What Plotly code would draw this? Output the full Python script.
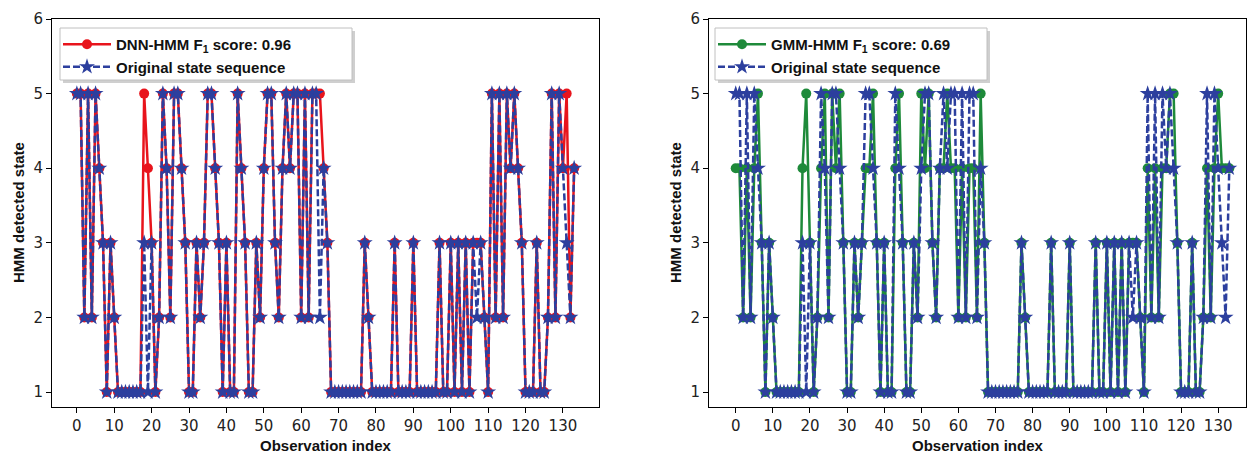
import plotly.graph_objects as go

# ---------------- data ----------------
obs_index = list(range(134))

original_states = [
    5, 5, 2, 5, 2, 5, 4, 3, 1, 3,
    2, 1, 1, 1, 1, 1, 1, 1, 3, 1,
    3, 1, 2, 5, 4, 2, 5, 5, 4, 3,
    1, 1, 3, 2, 3, 5, 5, 4, 3, 1,
    3, 1, 1, 5, 4, 3, 1, 1, 3, 2,
    4, 5, 5, 3, 2, 4, 5, 4, 5, 5,
    2, 5, 2, 5, 5, 2, 4, 3, 1, 1,
    1, 1, 1, 1, 1, 1, 1, 3, 2, 1,
    1, 1, 1, 1, 1, 3, 1, 1, 1, 1,
    3, 1, 1, 1, 1, 1, 1, 3, 1, 1,
    3, 1, 3, 1, 3, 1, 3, 2, 3, 2,
    1, 5, 2, 5, 2, 5, 4, 5, 4, 3,
    1, 1, 1, 3, 1, 1, 2, 5, 2, 5,
    4, 3, 2, 4,
]

dnn_states = [
    5, 5, 2, 5, 2, 5, 4, 3, 1, 3,
    2, 1, 1, 1, 1, 1, 1, 1, 5, 4,
    3, 1, 2, 5, 4, 2, 5, 5, 4, 3,
    1, 1, 3, 2, 3, 5, 5, 4, 3, 1,
    3, 1, 1, 5, 4, 3, 1, 1, 3, 2,
    4, 5, 5, 3, 2, 4, 5, 4, 5, 5,
    2, 5, 2, 5, 5, 5, 4, 3, 1, 1,
    1, 1, 1, 1, 1, 1, 1, 3, 2, 1,
    1, 1, 1, 1, 1, 3, 1, 1, 1, 1,
    3, 1, 1, 1, 1, 1, 1, 3, 1, 1,
    3, 1, 3, 1, 3, 1, 3, 3, 3, 2,
    1, 5, 2, 5, 2, 5, 4, 5, 4, 3,
    1, 1, 1, 3, 1, 1, 2, 5, 2, 5,
    4, 5, 2, 4,
]

gmm_states = [
    4, 4, 2, 4, 2, 4, 5, 3, 1, 3,
    2, 1, 1, 1, 1, 1, 1, 1, 4, 5,
    3, 1, 2, 4, 5, 2, 5, 4, 5, 3,
    1, 1, 3, 2, 3, 4, 4, 5, 3, 1,
    3, 1, 1, 4, 5, 3, 1, 1, 3, 2,
    5, 4, 5, 3, 2, 4, 4, 5, 4, 4,
    2, 4, 2, 4, 4, 2, 5, 3, 1, 1,
    1, 1, 1, 1, 1, 1, 1, 3, 2, 1,
    1, 1, 1, 1, 1, 3, 1, 1, 1, 1,
    3, 1, 1, 1, 1, 1, 1, 3, 1, 1,
    3, 1, 3, 1, 3, 1, 3, 3, 3, 2,
    1, 4, 2, 4, 2, 4, 4, 5, 5, 3,
    1, 1, 1, 3, 1, 1, 2, 4, 2, 4,
    5, 4, 4, 4,
]

x_ticks = list(range(0, 131, 10))
y_ticks = [1, 2, 3, 4, 5, 6]

dnn_label = "<b>DNN-HMM F<sub>1</sub> score: 0.96</b>"
gmm_label = "<b>GMM-HMM F<sub>1</sub> score: 0.69</b>"
orig_label = "<b>Original state sequence</b>"

# ---------------- style ----------------
RED = "#e8141c"
BLUE = "#2c3f9e"
GREEN = "#1e8a3a"
W, H = 1250, 454

def px_x(p):
    return p / W

def px_y(p):
    return 1 - p / H

fig = go.Figure()

# left panel
fig.add_trace(go.Scatter(
    x=obs_index, y=dnn_states, mode="lines+markers", name=dnn_label,
    line=dict(color=RED, width=2.5), marker=dict(symbol="circle", size=10, color=RED),
    xaxis="x", yaxis="y", legend="legend"))
fig.add_trace(go.Scatter(
    x=obs_index, y=original_states, mode="lines+markers", name=orig_label,
    line=dict(color=BLUE, width=2.5, dash="7px,3px"),
    marker=dict(symbol="star", size=12, color=BLUE),
    xaxis="x", yaxis="y", legend="legend"))

# right panel
fig.add_trace(go.Scatter(
    x=obs_index, y=gmm_states, mode="lines+markers", name=gmm_label,
    line=dict(color=GREEN, width=2.5), marker=dict(symbol="circle", size=10, color=GREEN),
    xaxis="x2", yaxis="y2", legend="legend2"))
fig.add_trace(go.Scatter(
    x=obs_index, y=original_states, mode="lines+markers", name=orig_label,
    line=dict(color=BLUE, width=2.5, dash="7px,3px"),
    marker=dict(symbol="star", size=12, color=BLUE),
    xaxis="x2", yaxis="y2", legend="legend2"))

tick_font = dict(family="DejaVu Sans", size=15, color="#222222")
ax_common = dict(showline=True, linecolor="black", linewidth=1, mirror=True,
                 ticks="outside", ticklen=5, tickcolor="black", showgrid=False,
                 zeroline=False, tickfont=tick_font)

L0, L1 = 52, 599
R0, R1 = 709, 1246
TOP, BOT = 19, 407

legend_font = dict(family="Liberation Sans", size=15, color="#111111")

fig.update_layout(
    width=W, height=H, margin=dict(l=0, r=0, t=0, b=0, autoexpand=False),
    paper_bgcolor="white", plot_bgcolor="white",
    xaxis=dict(domain=[px_x(L0), px_x(L1)], range=[-6.65, 139.65],
               tickvals=x_ticks, anchor="y", **ax_common),
    yaxis=dict(domain=[px_y(BOT), px_y(TOP)], range=[0.8, 6],
               tickvals=y_ticks, anchor="x", **ax_common),
    xaxis2=dict(domain=[px_x(R0), px_x(R1)], range=[-7.2, 137.5],
                tickvals=x_ticks, anchor="y2", **ax_common),
    yaxis2=dict(domain=[px_y(BOT), px_y(TOP)], range=[0.8, 6],
                tickvals=y_ticks, anchor="x2", **ax_common),
    legend=dict(x=px_x(58), y=px_y(28), xanchor="left", yanchor="top",
                bgcolor="rgba(0,0,0,0)", borderwidth=0,
                font=legend_font, itemwidth=48, tracegroupgap=0),
    legend2=dict(x=px_x(713), y=px_y(28), xanchor="left", yanchor="top",
                 bgcolor="rgba(0,0,0,0)", borderwidth=0,
                 font=legend_font, itemwidth=48, tracegroupgap=0),
    showlegend=True,
)

# legend frames with shadow
for x0, x1 in [(60, 352), (715, 987)]:
    fig.add_shape(type="rect", xref="paper", yref="paper",
                  x0=px_x(x0 + 3), x1=px_x(x1 + 3), y0=px_y(83), y1=px_y(31),
                  fillcolor="#cfcfcf", line=dict(width=0), layer="above")
    fig.add_shape(type="rect", xref="paper", yref="paper",
                  x0=px_x(x0), x1=px_x(x1), y0=px_y(80), y1=px_y(28),
                  fillcolor="white", line=dict(width=1, color="#c0c0c0"), layer="above")

# axis titles
title_font = dict(family="Liberation Sans", size=15, color="#111111")
for xc in [(L0 + L1) / 2, (R0 + R1) / 2]:
    fig.add_annotation(text="<b>Observation index</b>", xref="paper", yref="paper",
                       x=px_x(xc), y=px_y(445), showarrow=False, font=title_font,
                       xanchor="center", yanchor="middle")
for xl in [18, 675]:
    fig.add_annotation(text="<b>HMM detected state</b>", xref="paper", yref="paper",
                       x=px_x(xl), y=px_y((TOP + BOT) / 2), showarrow=False,
                       font=title_font, textangle=-90, xanchor="center", yanchor="middle")

fig.write_html("out.html", config={"displayModeBar": False},
               post_script="document.body.style.margin='0';document.body.style.padding='0';")
